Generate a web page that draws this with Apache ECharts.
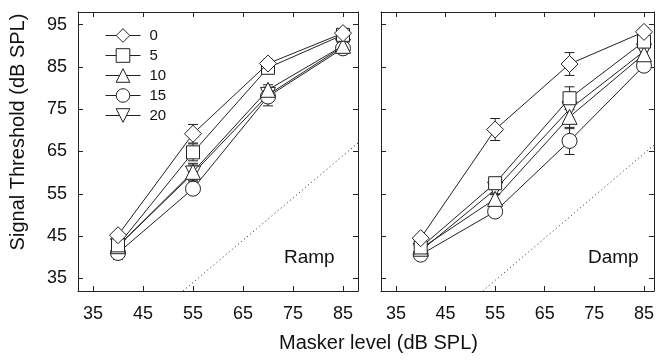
<!DOCTYPE html>
<html>
<head>
<meta charset="utf-8">
<script src="https://cdn.jsdelivr.net/npm/echarts@6/dist/echarts.min.js"></script>
<style>
  html, body { margin: 0; padding: 0; background: #fff; }
  #chart { width: 657px; height: 360px; }
</style>
</head>
<body>
<div id="chart"></div>
<script>
const masker = [40, 55, 70, 85]
const tickValues = [35, 45, 55, 65, 75, 85, 95]
const xTickValues = [35, 45, 55, 65, 75, 85]
const seriesNames = ["0", "5", "10", "15", "20"]

// Ramp panel thresholds and error half-widths
const ramp0 = [45.2, 69.2, 85.8, 93.0]
const ramp5 = [42.8, 64.8, 84.8, 92.6]
const ramp10 = [42.6, 60.2, 79.6, 90.0]
const ramp15 = [41.0, 56.2, 78.0, 89.4]
const ramp20 = [42.6, 59.8, 78.4, 89.8]
const rampErr0 = [0.8, 2.2, 1.0, 0.8]
const rampErr5 = [0.8, 2.0, 1.0, 0.8]
const rampErr10 = [0.8, 2.0, 1.2, 0.8]
const rampErr15 = [1.5, 1.0, 2.2, 0.8]
const rampErr20 = [1.0, 2.0, 1.2, 0.8]

// Damp panel
const damp0 = [44.5, 70.2, 85.7, 93.3]
const damp5 = [42.3, 57.5, 77.6, 91.0]
const damp10 = [42.0, 53.8, 73.2, 88.0]
const damp15 = [40.6, 50.8, 67.5, 85.3]
const damp20 = [41.5, 56.0, 75.0, 88.7]
const dampErr0 = [0.8, 2.6, 2.7, 1.0]
const dampErr5 = [0.8, 1.2, 2.7, 1.0]
const dampErr10 = [0.8, 1.2, 2.8, 1.0]
const dampErr15 = [0.8, 1.0, 3.2, 1.0]
const dampErr20 = [0.8, 1.2, 3.0, 1.0]

// dotted reference line endpoints (threshold = masker - 21)
const rampDiag = [[53, 32], [88, 67]]
const dampDiag = [[52.5, 32], [87, 66.5]]

const chart = echarts.init(document.getElementById("chart"))
const font = "Liberation Sans, Arial, Helvetica, sans-serif"
const ink = "#222"

const symbols = [
  { symbol: "diamond", size: 17, rotate: 0 },
  { symbol: "rect", size: 13, rotate: 0 },
  { symbol: "triangle", size: 15, rotate: 0 },
  { symbol: "circle", size: 15, rotate: 0 },
  { symbol: "triangle", size: 15, rotate: 180 },
]

const rampSets = [ramp0, ramp5, ramp10, ramp15, ramp20]
const rampErrs = [rampErr0, rampErr5, rampErr10, rampErr15, rampErr20]
const dampSets = [damp0, damp5, damp10, damp15, damp20]
const dampErrs = [dampErr0, dampErr5, dampErr10, dampErr15, dampErr20]

function renderErr(params, api) {
  const x = api.value(0)
  const lo = api.coord([x, api.value(1)])
  const hi = api.coord([x, api.value(2)])
  const w = 5
  const style = { stroke: ink, lineWidth: 1 }
  return {
    type: "group",
    children: [
      { type: "line", shape: { x1: lo[0], y1: lo[1], x2: hi[0], y2: hi[1] }, style },
      { type: "line", shape: { x1: lo[0] - w, y1: lo[1], x2: lo[0] + w, y2: lo[1] }, style },
      { type: "line", shape: { x1: hi[0] - w, y1: hi[1], x2: hi[0] + w, y2: hi[1] }, style },
    ],
  }
}

function panelSeries(sets, errs, axisIdx) {
  const out = []
  sets.forEach((vals, i) => {
    out.push({
      type: "custom",
      xAxisIndex: axisIdx,
      yAxisIndex: axisIdx,
      renderItem: renderErr,
      z: 1,
      silent: true,
      data: masker.map((m, j) => [m, vals[j] - errs[i][j], vals[j] + errs[i][j]]),
    })
  })
  sets.forEach((vals, i) => {
    const s = symbols[i]
    out.push({
      name: seriesNames[i],
      type: "line",
      xAxisIndex: axisIdx,
      yAxisIndex: axisIdx,
      z: 3 + (4 - i),
      data: masker.map((m, j) => [m, vals[j]]),
      symbol: s.symbol,
      symbolSize: s.size,
      symbolRotate: s.rotate,
      showAllSymbol: true,
      lineStyle: { color: ink, width: 1 },
      itemStyle: { color: "#fff", borderColor: ink, borderWidth: 1 },
      emphasis: { disabled: true },
    })
  })
  return out
}

function diagSeries(pts, axisIdx) {
  return {
    type: "line",
    xAxisIndex: axisIdx,
    yAxisIndex: axisIdx,
    data: pts,
    symbol: "none",
    silent: true,
    z: 0,
    lineStyle: { color: "#222", width: 1, type: [1, 3] },
  }
}

function xAx(gridIndex, max, bottom) {
  return {
    type: "value",
    gridIndex,
    min: 32,
    max,
    position: bottom ? "bottom" : "top",
    axisLine: { show: true, onZero: false, lineStyle: { color: ink, width: 1 } },
    axisTick: { show: true, inside: true, length: 5, customValues: xTickValues, lineStyle: { color: ink } },
    axisLabel: bottom
      ? { show: true, customValues: xTickValues, fontSize: 18, color: "#111", fontFamily: font, margin: 14 }
      : { show: false },
    splitLine: { show: false },
  }
}

function yAx(gridIndex, left, labels) {
  return {
    type: "value",
    gridIndex,
    min: 32,
    max: 98,
    position: left ? "left" : "right",
    axisLine: { show: true, onZero: false, lineStyle: { color: ink, width: 1 } },
    axisTick: { show: true, inside: true, length: 5, customValues: tickValues, lineStyle: { color: ink } },
    axisLabel: labels
      ? { show: true, customValues: tickValues, fontSize: 18, color: "#111", fontFamily: font, margin: 11 }
      : { show: false },
    splitLine: { show: false },
  }
}

const option = {
  backgroundColor: "#fff",
  animation: false,
  grid: [
    { left: 78, right: 299, top: 12, bottom: 69 },
    { left: 381, right: 1, top: 12, bottom: 69 },
  ],
  xAxis: [
    xAx(0, 88, true),
    xAx(1, 87, true),
    xAx(0, 88, false),
    xAx(1, 87, false),
  ],
  yAxis: [
    yAx(0, true, true),
    yAx(1, true, false),
    yAx(0, false, false),
    yAx(1, false, false),
  ],
  legend: {
    data: seriesNames,
    orient: "vertical",
    left: 100,
    top: 23,
    itemWidth: 35,
    itemHeight: 17,
    itemGap: 5,
    lineStyle: { width: 1, color: ink },
    itemStyle: { color: "#fff", borderColor: ink, borderWidth: 1 },
    textStyle: { fontSize: 15, color: "#111", fontFamily: font, padding: [0, 0, 0, 4] },
    selectedMode: false,
  },
  graphic: [
    {
      type: "text",
      left: 279,
      top: 333,
      style: { text: "Masker level (dB SPL)", fontSize: 20, fill: "#111", fontFamily: font },
    },
    {
      type: "text",
      x: 18,
      y: 132,
      rotation: Math.PI / 2,
      style: {
        text: "Signal Threshold (dB SPL)",
        fontSize: 20,
        fill: "#111",
        fontFamily: font,
        align: "center",
        verticalAlign: "middle",
      },
    },
    {
      type: "text",
      left: 284,
      top: 248,
      style: { text: "Ramp", fontSize: 19, fill: "#111", fontFamily: font },
    },
    {
      type: "text",
      left: 588,
      top: 248,
      style: { text: "Damp", fontSize: 19, fill: "#111", fontFamily: font },
    },
  ],
  series: [
    diagSeries(rampDiag, 0),
    diagSeries(dampDiag, 1),
    ...panelSeries(rampSets, rampErrs, 0),
    ...panelSeries(dampSets, dampErrs, 1),
  ],
}

chart.setOption(option)
</script>
</body>
</html>
